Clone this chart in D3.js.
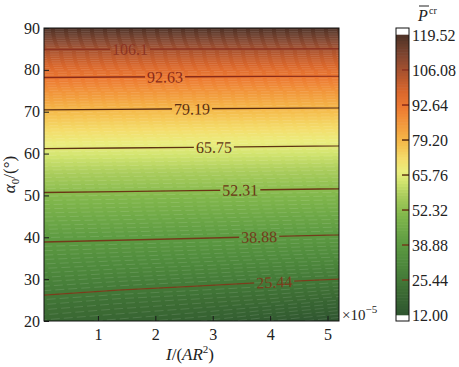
<!DOCTYPE html>
<html>
<head>
<meta charset="utf-8">
<script src="https://cdn.jsdelivr.net/npm/d3@7"></script>
<style>
  body { margin: 0; background: #fff; }
  text { font-family: "Liberation Serif", "Tinos", "DejaVu Serif", serif; }
</style>
</head>
<body>
<svg id="chart" width="459" height="367"></svg>
<script>
// grid: x in units of 1e-5, alpha in degrees
const xGrid = [0.06, 1.345, 2.63, 3.915, 5.2];
const alphaGrid = [20, 25, 30, 35, 40, 45, 50, 55, 60, 65, 70, 75, 80, 85, 90];
const pcrRows = [
    [19.6, 18.3, 16.8, 14.3, 12.0],
    [24.2, 22.86, 21.87, 20.71, 18.72],
    [29.45, 28.29, 27.34, 26.31, 25.44],
    [34.72, 33.98, 33.29, 32.5, 31.81],
    [40.07, 39.68, 39.23, 38.70, 38.18],
    [45.77, 45.42, 45.04, 44.64, 44.24],
    [51.45, 51.16, 50.86, 50.58, 50.26],
    [57.72, 57.45, 57.18, 56.92, 56.63],
    [64.09, 63.88, 63.67, 63.41, 63.17],
    [71.16, 70.94, 70.72, 70.48, 70.23],
    [78.46, 78.24, 78.02, 77.86, 77.63],
    [86.85, 86.64, 86.47, 86.3, 86.13],
    [95.95, 95.76, 95.66, 95.49, 95.39],
    [106.36, 106.23, 106.1, 106.1, 105.99],
    [119.52, 119.52, 119.52, 119.52, 119.52]
];
const contourLevels = [25.44, 38.88, 52.31, 65.75, 79.19, 92.63, 106.1];
const contourLabelX = [4.07, 3.81, 3.48, 3.02, 2.64, 2.17, 1.56];
const xTicks = [1, 2, 3, 4, 5];
const yTicks = [20, 30, 40, 50, 60, 70, 80, 90];
const cbarTicks = [12.00, 25.44, 38.88, 52.32, 65.76, 79.20, 92.64, 106.08, 119.52];

// colours
const cmapStops = [
    [12, "#2f5530"], [20, "#3a6933"], [30, "#4b853b"], [40, "#5e9c42"],
    [50, "#80b64b"], [58, "#aacd5c"], [63, "#d0e36e"], [67, "#eaed7e"],
    [72, "#f4dc6a"], [78, "#f5bd4c"], [85, "#f29a3c"], [92, "#ec7932"],
    [98, "#d8662c"], [104, "#b3562e"], [110, "#8c4930"], [115, "#6b3d2c"],
    [119.52, "#4d3226"]
];
const lineColors = ["#7a3d1c", "#733b1a", "#6a3614", "#5e3412", "#5a2c10", "#8a2a18", "#8c3322"];

const svg = d3.select("#chart");
const plot = { left: 44, top: 28, right: 339, bottom: 321 };

const x = d3.scaleLinear().domain([0.06, 5.2]).range([plot.left, plot.right]);
const y = d3.scaleLinear().domain([20, 90]).range([plot.bottom, plot.top]);

const nx = xGrid.length, ny = alphaGrid.length;
const gx = d3.scaleLinear().domain([0.5, nx - 0.5]).range([xGrid[0], xGrid[nx - 1]]);
const gy = d3.scaleLinear().domain([0.5, ny - 0.5]).range([alphaGrid[0], alphaGrid[ny - 1]]);
const toPx = (p) => [x(gx(p[0])), y(gy(p[1]))];
const path = d3.geoPath(d3.geoTransform({
    point: function (px, py) { const q = toPx([px, py]); this.stream.point(q[0], q[1]); }
}));

const values = pcrRows.flat();
const color = d3.scaleLinear()
    .domain(cmapStops.map(d => d[0]))
    .range(cmapStops.map(d => d[1]))
    .clamp(true);

const defs = svg.append("defs");
defs.append("clipPath").attr("id", "plotclip")
    .append("rect")
    .attr("x", plot.left).attr("y", plot.top)
    .attr("width", plot.right - plot.left).attr("height", plot.bottom - plot.top);

// filled contours, many levels like contourf
const nLev = 96;
const step = (119.52 - 12) / nLev;
const fillLevels = d3.range(nLev).map(i => 12 + i * step);
const fills = d3.contours().size([nx, ny]).thresholds(fillLevels)(values);

const fillG = svg.append("g").attr("clip-path", "url(#plotclip)");
fillG.append("rect")
    .attr("x", plot.left).attr("y", plot.top)
    .attr("width", plot.right - plot.left).attr("height", plot.bottom - plot.top)
    .attr("fill", color(12));
fillG.selectAll("path.band")
    .data(fills)
    .join("path")
    .attr("class", "band")
    .attr("d", path)
    .attr("fill", d => color(d.value + step / 2))
    .attr("stroke", "#ffffff")
    .attr("stroke-opacity", 0.2)
    .attr("stroke-width", 0.6)
    .attr("stroke-dasharray", "9 4");

// contour lines + inline labels
const lines = d3.contours().size([nx, ny]).thresholds(contourLevels)(values);
const mask = defs.append("mask").attr("id", "labelgaps")
    .attr("maskUnits", "userSpaceOnUse")
    .attr("x", 0).attr("y", 0).attr("width", 459).attr("height", 367);
mask.append("rect").attr("x", 0).attr("y", 0).attr("width", 459).attr("height", 367).attr("fill", "#fff");

const lineG = svg.append("g").attr("clip-path", "url(#plotclip)");
lineG.append("g").attr("mask", "url(#labelgaps)")
    .selectAll("path")
    .data(lines)
    .join("path")
    .attr("d", path)
    .attr("fill", "none")
    .attr("stroke", (d, i) => lineColors[i])
    .attr("stroke-width", 1.4);

const labelG = svg.append("g");
lines.forEach(function (c, i) {
    const lx = x(contourLabelX[i]);
    let ly = null, ang = 0;
    c.coordinates.forEach(poly => poly.forEach(ring => {
        for (let k = 1; k < ring.length; k++) {
            const p = toPx(ring[k - 1]), q = toPx(ring[k]);
            if (p[0] === q[0]) continue;
            if (Math.min(p[0], q[0]) <= lx && lx <= Math.max(p[0], q[0])
                && p[1] > plot.top + 1 && p[1] < plot.bottom - 1
                && q[1] > plot.top + 1 && q[1] < plot.bottom - 1) {
                const t = (lx - p[0]) / (q[0] - p[0]);
                ly = p[1] + t * (q[1] - p[1]);
                ang = Math.atan2(q[1] - p[1], q[0] - p[0]) * 180 / Math.PI;
                if (ang > 90) ang -= 180;
                if (ang < -90) ang += 180;
            }
        }
    }));
    if (ly === null) return;
    const txt = labelG.append("text")
        .attr("x", lx).attr("y", ly)
        .attr("dy", "0.35em")
        .attr("text-anchor", "middle")
        .attr("font-size", 16)
        .attr("fill", lineColors[i])
        .attr("transform", `rotate(${ang},${lx},${ly})`)
        .text(c.value);
    const w = txt.node().getComputedTextLength() + 4;
    mask.append("rect")
        .attr("x", lx - w / 2).attr("y", ly - 7)
        .attr("width", w).attr("height", 14)
        .attr("fill", "#000")
        .attr("transform", `rotate(${ang},${lx},${ly})`);
});

// frame and axes
svg.append("rect")
    .attr("x", plot.left).attr("y", plot.top)
    .attr("width", plot.right - plot.left).attr("height", plot.bottom - plot.top)
    .attr("fill", "none").attr("stroke", "#111").attr("stroke-width", 1);

const xAxis = svg.append("g")
    .attr("transform", `translate(0,${plot.bottom})`)
    .call(d3.axisBottom(x).tickValues(xTicks).tickSize(-5).tickPadding(8).tickFormat(d3.format("d")));
const yAxis = svg.append("g")
    .attr("transform", `translate(${plot.left},0)`)
    .call(d3.axisLeft(y).tickValues(yTicks).tickSize(-5).tickPadding(4).tickFormat(d3.format("d")));
[xAxis, yAxis].forEach(g => {
    g.attr("font-family", null);
    g.select(".domain").remove();
    g.selectAll(".tick line").attr("stroke", "#1a1a1a").attr("stroke-width", 1);
    g.selectAll(".tick text")
        .attr("font-size", 16)
        .attr("fill", "#222");
});

// offset text
const off = svg.append("text").attr("x", 342).attr("y", 320).attr("font-size", 15).attr("fill", "#222");
off.append("tspan").text("×10");
off.append("tspan").attr("font-size", 11).attr("dy", -7).text("−5");

// axis labels
const xl = svg.append("text").attr("x", 190).attr("y", 360)
    .attr("text-anchor", "middle").attr("font-size", 17).attr("fill", "#222");
xl.append("tspan").attr("font-style", "italic").text("I");
xl.append("tspan").text("/(");
xl.append("tspan").attr("font-style", "italic").text("AR");
xl.append("tspan").attr("font-size", 11).attr("dy", -7).text("2");
xl.append("tspan").attr("dy", 7).text(")");

const yl = svg.append("text")
    .attr("transform", `translate(15,${(plot.top + plot.bottom) / 2}) rotate(-90)`)
    .attr("text-anchor", "middle").attr("font-size", 17).attr("fill", "#222");
yl.append("tspan").attr("font-style", "italic").text("α");
yl.append("tspan").attr("font-size", 11).attr("dy", 4).text("0");
yl.append("tspan").attr("dy", -4).text("/(°)");

// colour bar
const cb = { x: 396, w: 13, top: 28, bottom: 321 };
const cbY = d3.scaleLinear().domain([12, 119.52]).range([315, 35]);
svg.append("rect")
    .attr("x", cb.x).attr("y", cb.top).attr("width", cb.w).attr("height", cb.bottom - cb.top)
    .attr("fill", "#fff");
svg.append("g")
    .selectAll("rect")
    .data(fillLevels)
    .join("rect")
    .attr("x", cb.x).attr("width", cb.w)
    .attr("y", d => cbY(d + step) - 0.3)
    .attr("height", d => cbY(d) - cbY(d + step) + 0.6)
    .attr("fill", d => color(d + step / 2));
svg.append("g")
    .selectAll("line")
    .data(contourLevels)
    .join("line")
    .attr("x1", cb.x + 6).attr("x2", cb.x + cb.w)
    .attr("y1", d => cbY(d)).attr("y2", d => cbY(d))
    .attr("stroke", (d, i) => lineColors[i])
    .attr("stroke-width", 1.5);
svg.append("rect")
    .attr("x", cb.x).attr("y", cb.top).attr("width", cb.w).attr("height", cb.bottom - cb.top)
    .attr("fill", "none").attr("stroke", "#111").attr("stroke-width", 1);
svg.append("g")
    .selectAll("text")
    .data(cbarTicks)
    .join("text")
    .attr("x", cb.x + cb.w + 3)
    .attr("y", d => cbY(d))
    .attr("dy", "0.35em")
    .attr("font-size", 16)
    .attr("fill", "#222")
    .text(d => d.toFixed(2));

// colour bar title: P-bar with superscript cr
const cbt = svg.append("g");
cbt.append("text").attr("x", 418).attr("y", 21).attr("font-size", 16)
    .attr("font-style", "italic").attr("fill", "#222").text("P");
cbt.append("line").attr("x1", 419).attr("x2", 429).attr("y1", 6).attr("y2", 6)
    .attr("stroke", "#222").attr("stroke-width", 1);
cbt.append("text").attr("x", 429).attr("y", 14).attr("font-size", 10)
    .attr("fill", "#222").text("cr");
</script>
</body>
</html>
